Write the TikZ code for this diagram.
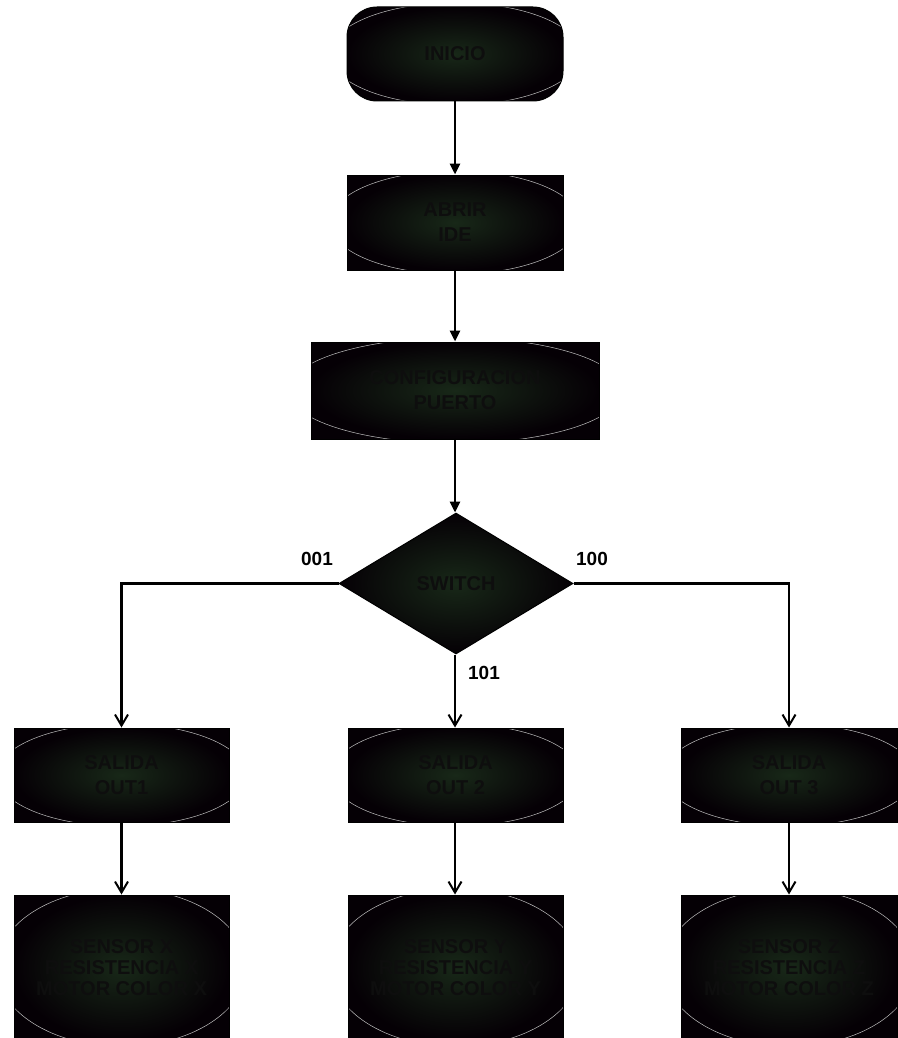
\documentclass[tikz,border=0pt]{standalone}
\usepackage{fontspec}
\setmainfont{Liberation Sans}
\usetikzlibrary{shapes.geometric,arrows.meta,calc}
\definecolor{shin}{RGB}{24,40,24}
\definecolor{shout}{RGB}{5,0,5}
\definecolor{txtc}{RGB}{14,14,14}
\tikzset{
  arcline/.style={white, line width=0.5pt, opacity=0.75},
  shbox/.style={draw=black, line width=1pt, shading=radial, inner color=shin, outer color=shout,
    text=txtc, font=\fontsize{20}{25}\selectfont\bfseries, align=center, inner sep=0pt,
    path picture={
      \path (path picture bounding box.south west) coordinate (ppsw)
            (path picture bounding box.north east) coordinate (ppne);
      \draw[arcline] let \p1=($(ppne)-(ppsw)$) in
        (path picture bounding box.center) ellipse [x radius={0.58*\x1}, y radius={0.545*\y1}];
    }},
  startbox/.style={shbox, rounded corners=30pt},
  decbox/.style={diamond, draw=black, line width=1pt, shading=radial, inner color=shin, outer color=shout,
    text=txtc, font=\fontsize{20}{25}\selectfont\bfseries, inner sep=0pt, aspect=1.66},
  lbl/.style={font=\fontsize{19}{22}\selectfont\bfseries, text=black, inner sep=0pt},
  spine/.style={line width=2.6pt, -{Triangle[width=10pt,length=11pt]}},
  branch/.style={line width=2.6pt, -{Straight Barb[width=13pt,length=11pt,line width=2pt]}},
}
\begin{document}
\begin{tikzpicture}[x=1pt,y=-1pt]
\useasboundingbox (0,0) rectangle (897,1038);
\node[startbox, minimum width=216pt, minimum height=94pt] (ini) at (455,54) {INICIO};
\node[shbox, minimum width=216pt, minimum height=95pt] (ide) at (455,222.5) {ABRIR\\IDE};
\node[shbox, minimum width=288pt, minimum height=97pt] (conf) at (455,390.5) {CONFIGURACION\\PUERTO};
\node[decbox, minimum width=234pt, minimum height=141pt] (sw) at (456,583.5) {SWITCH};
\node[shbox, minimum width=215pt, minimum height=94pt] (o1) at (121.5,775) {SALIDA\\OUT1};
\node[shbox, minimum width=215pt, minimum height=94pt] (o2) at (455.5,775) {SALIDA\\OUT 2};
\node[shbox, minimum width=216pt, minimum height=94pt] (o3) at (789,775) {SALIDA\\OUT 3};
\node[shbox, minimum width=215pt, minimum height=145pt, font=\fontsize{20}{21}\selectfont\bfseries] (s1) at (121.5,967.5) {SENSOR X\\RESISTENCIA X\\MOTOR COLOR X};
\node[shbox, minimum width=215pt, minimum height=145pt, font=\fontsize{20}{21}\selectfont\bfseries] (s2) at (455.5,967.5) {SENSOR Y\\RESISTENCIA Y\\MOTOR COLOR Y};
\node[shbox, minimum width=216pt, minimum height=145pt, font=\fontsize{20}{21}\selectfont\bfseries] (s3) at (789,967.5) {SENSOR Z\\RESISTENCIA Z\\MOTOR COLOR Z};
\draw[spine] (ini.south -| 455,0) -- (ide.north -| 455,0);
\draw[spine] (ide.south -| 455,0) -- (conf.north -| 455,0);
\draw[spine] (conf.south -| 455,0) -- (sw.north -| 455,0);
\draw[branch] (sw.west) -| (o1.north);
\draw[branch] (sw.east) -| (o3.north);
\draw[branch] (sw.south -| 455,0) -- (o2.north -| 455,0);
\draw[branch] (o1.south) -- (s1.north);
\draw[branch] (o2.south -| 455,0) -- (s2.north -| 455,0);
\draw[branch] (o3.south) -- (s3.north);
\node[lbl] (l001) at (317,559) {001};
\node[lbl] (l100) at (592,559) {100};
\node[lbl] (l101) at (484,673) {101};
\end{tikzpicture}
\end{document}
